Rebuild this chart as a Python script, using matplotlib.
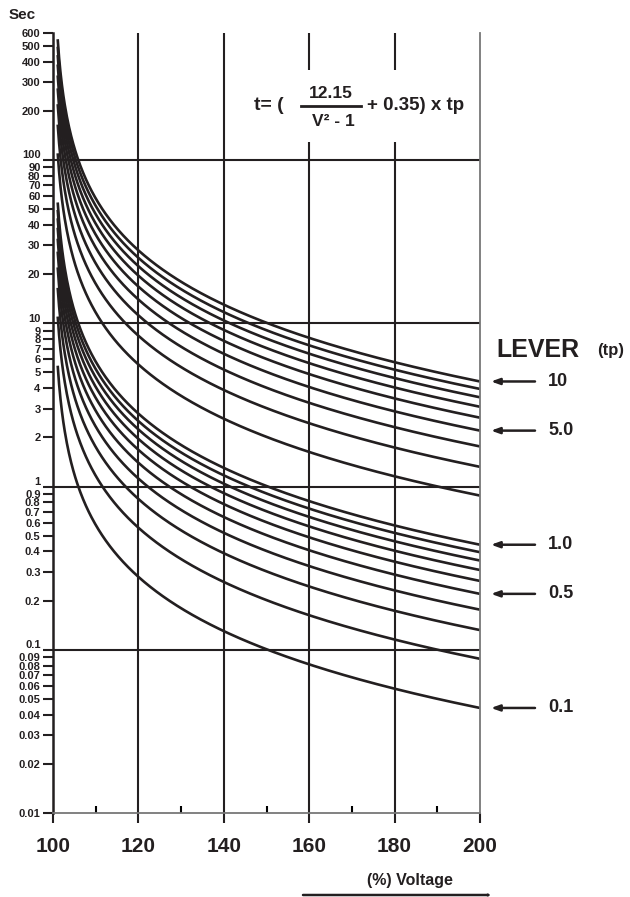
import numpy as np
import matplotlib
matplotlib.use("Agg")
import matplotlib.pyplot as plt
from matplotlib.transforms import ScaledTranslation
from matplotlib.patches import Rectangle

levers = [10, 9, 8, 7, 6, 5, 4, 3, 2,
          1.0, 0.9, 0.8, 0.7, 0.6, 0.5, 0.4, 0.3, 0.2, 0.1]
# levers that get an arrow + label on the right
marked_levers = [10, 5.0, 1.0, 0.5, 0.1]
marked_labels = ["10", "5.0", "1.0", "0.5", "0.1"]

# constants printed in the chart equation t = (12.15 / (V^2 - 1) + 0.35) x tp
coef_a = 12.15
coef_b = 0.35
time_scale = 0.1   # plotted seconds are a tenth of the printed equation (tp=10 ends at ~4.4 s)
v_start = 101.1    # curves start just above 100 %
v_end = 200

x_ticks = [100, 120, 140, 160, 180, 200]
x_minor = [110, 130, 150, 170, 190]
y_ticks = [0.01, 0.02, 0.03, 0.04, 0.05, 0.06, 0.07, 0.08, 0.09,
           0.1, 0.2, 0.3, 0.4, 0.5, 0.6, 0.7, 0.8, 0.9,
           1, 2, 3, 4, 5, 6, 7, 8, 9,
           10, 20, 30, 40, 50, 60, 70, 80, 90,
           100, 200, 300, 400, 500, 600]
y_labels = ["0.01", "0.02", "0.03", "0.04", "0.05", "0.06", "0.07", "0.08", "0.09",
            "0.1", "0.2", "0.3", "0.4", "0.5", "0.6", "0.7", "0.8", "0.9",
            "1", "2", "3", "4", "5", "6", "7", "8", "9",
            "10", "20", "30", "40", "50", "60", "70", "80", "90",
            "100", "200", "300", "400", "500", "600"]
decades = [0.1, 1, 10, 100]

W, H = 630, 897
plt.rcParams['font.family'] = ['Liberation Sans', 'DejaVu Sans']
plt.rcParams['font.weight'] = 'bold'
INK = '#231f20'


def fx(px):
    return px / W


def fy(py):
    return 1 - py / H


fig = plt.figure(figsize=(W / 100, H / 100), dpi=100)
ax = fig.add_axes([fx(53), fy(813), fx(480) - fx(53), fy(33) - fy(813)])

volts = np.linspace(v_start, v_end, 600)
end_values = {}
for tp in levers:
    v = volts / 100.0
    t = (coef_a / (v ** 2 - 1) + coef_b) * tp * time_scale
    ax.plot(volts, t, color=INK, lw=1.9, solid_capstyle='butt', zorder=2)
    end_values[tp] = t[-1]

ax.set_yscale('log')
ax.set_xlim(100, 200)
ax.set_ylim(0.01, 600)

# grid: decade lines and 20 % lines
for d in decades:
    ax.axhline(d, color=INK, lw=1.5, zorder=1)
for xv in x_ticks[1:-1]:
    ax.axvline(xv, color=INK, lw=1.5, zorder=1)

ax.set_yticks(y_ticks)
ax.set_yticklabels(y_labels)
ax.yaxis.set_minor_locator(matplotlib.ticker.NullLocator())
ax.tick_params(axis='y', direction='out', length=7, width=1.5, pad=2,
               labelsize=8, colors=INK)
ax.set_xticks(x_ticks)
ax.set_xticks(x_minor, minor=True)
ax.tick_params(axis='x', which='major', direction='out', length=7, width=1.5,
               pad=10, labelsize=15, colors=INK)
ax.tick_params(axis='x', which='minor', direction='in', length=5, width=1.5)

# decade labels sit a little higher so they clear the 0.9 / 9 labels
shift = ScaledTranslation(0, 4 / 72, fig.dpi_scale_trans)
for lab in ax.get_yticklabels():
    if lab.get_text() in ("1", "10", "100", "0.1"):
        lab.set_transform(lab.get_transform() + shift)

ax.spines['top'].set_visible(False)
ax.spines['left'].set_linewidth(1.8)
ax.spines['left'].set_color(INK)
ax.spines['right'].set_color('#777777')
ax.spines['right'].set_linewidth(1.3)
ax.spines['bottom'].set_color('#777777')
ax.spines['bottom'].set_linewidth(1.3)

fig.text(fx(9), fy(15), "Sec", fontsize=11, color=INK, va='center', ha='left')

# equation block with white background over the grid lines
ax.add_patch(Rectangle((fx(250), fy(142)), fx(470) - fx(250), fy(70) - fy(142),
                       transform=fig.transFigure, facecolor='white',
                       edgecolor='none', zorder=3, clip_on=False))
fig.text(fx(254), fy(106), "t= (", fontsize=14, color=INK, va='center', ha='left', zorder=4)
fig.text(fx(331), fy(94), "12.15", fontsize=12.5, color=INK, va='center', ha='center', zorder=4)
fig.add_artist(plt.Line2D([fx(301), fx(361)], [fy(106), fy(106)], color=INK, lw=2,
                          transform=fig.transFigure, zorder=4))
fig.text(fx(333), fy(121), "V² - 1", fontsize=12.5, color=INK, va='center', ha='center', zorder=4)
fig.text(fx(367), fy(106), "+ 0.35) x tp", fontsize=13.5, color=INK, va='center', ha='left', zorder=4)

# lever legend on the right
fig.text(fx(496), fy(350), "LEVER", fontsize=18, color=INK, va='center', ha='left')
fig.text(fx(597), fy(350), "(tp)", fontsize=12, color=INK, va='center', ha='left')
for tp, lab in zip(marked_levers, marked_labels):
    yv = end_values[tp]
    ax.annotate("", xy=(fx(491), yv), xytext=(fx(535), yv),
                xycoords=('figure fraction', 'data'),
                textcoords=('figure fraction', 'data'),
                arrowprops=dict(arrowstyle='-|>,head_length=0.5,head_width=0.18',
                                color=INK, lw=1.8, shrinkA=0, shrinkB=0),
                annotation_clip=False)
    ax.annotate(lab, xy=(fx(548), yv), xycoords=('figure fraction', 'data'),
                fontsize=13, color=INK, va='center', ha='left',
                annotation_clip=False)

# x axis caption with arrow
fig.text(fx(410), fy(880), "(%) Voltage", fontsize=11.5, color=INK, va='center', ha='center')
fig.add_artist(matplotlib.patches.FancyArrowPatch(
    (fx(303), fy(895)), (fx(492), fy(895)), transform=fig.transFigure,
    arrowstyle='-|>,head_length=0.5,head_width=0.18', color=INK, lw=1.8,
    shrinkA=0, shrinkB=0))

fig.savefig("out.png", dpi=100)
